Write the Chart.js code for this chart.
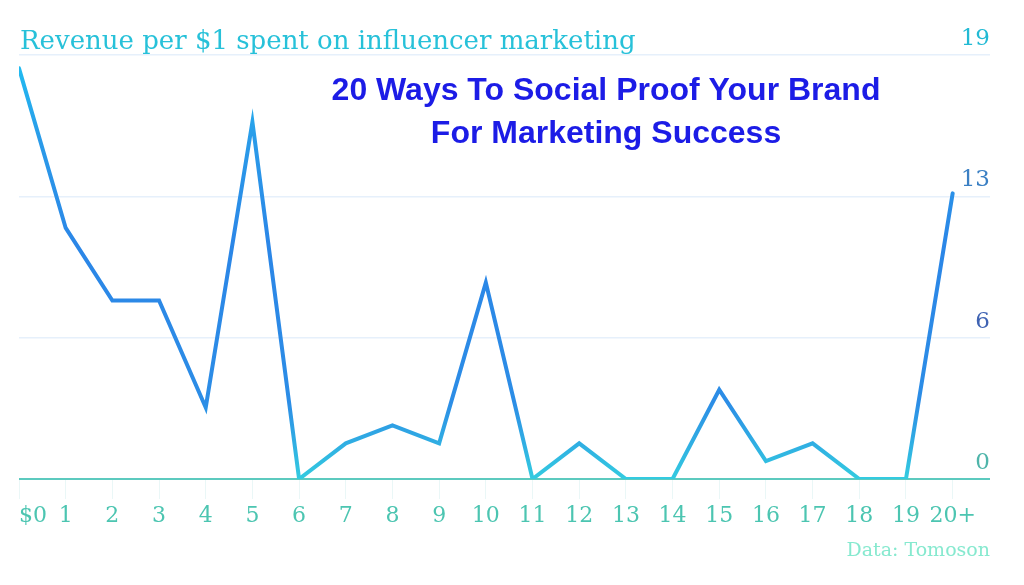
<!DOCTYPE html>
<html>
<head>
<meta charset="utf-8">
<script src="https://cdn.jsdelivr.net/npm/chart.js@4"></script>
<style>
  html, body { margin: 0; padding: 0; background: #ffffff; }
  #wrap { width: 1024px; height: 585px; }
</style>
</head>
<body>
<div id="wrap"><canvas id="myChart" width="1024" height="585"></canvas></div>
<script>
// categories and values
const categories = ['$0', '1', '2', '3', '4', '5', '6', '7', '8', '9', '10',
  '11', '12', '13', '14', '15', '16', '17', '18', '19', '20+'];
const revenue = [18.4, 11.25, 8.0, 8.0, 3.2, 16.0, 0, 1.6, 2.4, 1.6, 8.8,
  0, 1.6, 0, 0, 4.0, 0.8, 1.6, 0, 0, 12.8];
const yTickValues = [0, 19 / 3, 38 / 3, 19];
const yTickColors = ['#4fb5aa', '#3f63b3', '#3b80c4', '#22bad4'];

const chartTitle = 'Revenue per $1 spent on influencer marketing';
const bannerLines = ['20 Ways To Social Proof Your Brand', 'For Marketing Success'];
const sourceNote = 'Data: Tomoson';

const slab = '"DejaVu Serif", serif';

const textPlugin = {
  id: 'texts',
  afterDraw(chart) {
    const { ctx } = chart;
    ctx.save();
    ctx.textBaseline = 'alphabetic';
    ctx.fillStyle = '#27c1d9';
    ctx.font = '26px ' + slab;
    ctx.textAlign = 'left';
    ctx.fillText(chartTitle, 20, 49);

    ctx.fillStyle = '#1c1ce6';
    ctx.font = 'bold 32px "Liberation Sans", Arial, sans-serif';
    ctx.textAlign = 'center';
    ctx.fillText(bannerLines[0], 606, 100);
    ctx.fillText(bannerLines[1], 606, 143);

    ctx.fillStyle = '#86e9cf';
    ctx.font = '19px ' + slab;
    ctx.textAlign = 'right';
    ctx.fillText(sourceNote, 990, 556);
    ctx.restore();
  },
};

function lineGradient(context) {
  const { chart } = context;
  const { chartArea } = chart;
  if (!chartArea) return '#2a88e8';
  const g = chart.ctx.createLinearGradient(0, chartArea.top, 0, chartArea.bottom);
  g.addColorStop(0, '#1fc0f2');
  g.addColorStop(0.2, '#2a9be9');
  g.addColorStop(0.45, '#2b86e7');
  g.addColorStop(0.82, '#2c8de6');
  g.addColorStop(1, '#33cbe0');
  return g;
}

const ctx = document.getElementById('myChart').getContext('2d');
const chart = new Chart(ctx, {
  type: 'line',
  data: {
    datasets: [{
      label: 'Revenue',
      data: revenue.map((v, i) => ({ x: i, y: v })),
      borderColor: lineGradient,
      borderWidth: 4,
      borderCapStyle: 'round',
      pointRadius: 0,
      tension: 0,
      fill: false,
    }],
  },
  plugins: [textPlugin],
  options: {
    animation: false,
    responsive: false,
    layout: { padding: { top: 55, left: 19, right: 34, bottom: 0 } },
    plugins: {
      legend: { display: false },
      tooltip: { enabled: false },
    },
    scales: {
      x: {
        type: 'linear',
        min: 0,
        max: 20.8,
        afterBuildTicks: (scale) => {
          scale.ticks = categories.map((c, i) => ({ value: i }));
        },
        afterFit: (scale) => {
          scale.height = 106;
          scale.paddingLeft = 0;
          scale.paddingRight = 0;
        },
        border: { display: false },
        grid: {
          drawOnChartArea: false,
          drawTicks: true,
          tickLength: 20,
          color: '#eaf7f7',
        },
        ticks: {
          autoSkip: false,
          maxRotation: 0,
          padding: 4,
          color: '#4cc5b1',
          font: { family: slab, size: 22 },
          // pad the first label so it sits right of the axis start, as in the picture
          callback: (value) => (value === 0 ? '    ' + categories[0] : categories[value]),
        },
      },
      y: {
        position: 'right',
        min: 0,
        max: 19,
        afterBuildTicks: (scale) => {
          scale.ticks = yTickValues.map((v) => ({ value: v }));
        },
        afterFit: (scale) => { scale.width = 0; },
        border: { display: false },
        grid: {
          drawTicks: false,
          color: (c) => (c.tick && c.tick.value === 0 ? '#5ccabf' : '#e6f0fb'),
          lineWidth: (c) => (c.tick && c.tick.value === 0 ? 2 : 1.5),
        },
        ticks: {
          mirror: true,
          padding: 0,
          labelOffset: -16,
          color: (c) => yTickColors[c.index],
          font: { family: slab, size: 23 },
          callback: (value) => Math.round(value),
        },
      },
    },
  },
});
</script>
</body>
</html>
